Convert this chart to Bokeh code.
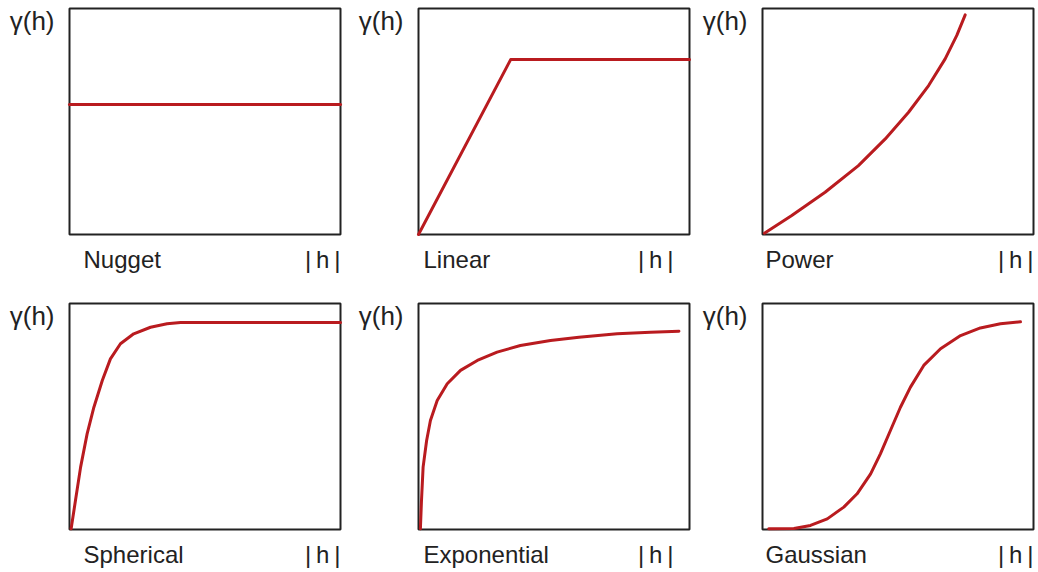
from bokeh.plotting import figure
from bokeh.models import Range1d
from bokeh.core.properties import value
from bokeh.layouts import column, row
from bokeh.embed import file_html
from bokeh.resources import INLINE

# Semivariogram model shapes: lag |h| (0..1 across the box) vs. gamma(h) (0..1 up the box)
names = ["Nugget", "Linear", "Power", "Spherical", "Exponential", "Gaussian"]

nugget_h = [0.0, 1.0]
nugget_g = [0.575, 0.575]

linear_h = [0.0, 0.34, 1.0]
linear_g = [0.0, 0.774, 0.774]

power_h = [0.007, 0.108, 0.231, 0.354, 0.453, 0.539, 0.613, 0.674, 0.717, 0.748]
power_g = [0.006, 0.084, 0.187, 0.305, 0.423, 0.541, 0.659, 0.777, 0.881, 0.972]

spherical_h = [0.006, 0.022, 0.041, 0.065, 0.090, 0.121, 0.151, 0.188, 0.237, 0.299,
               0.360, 0.410, 1.0]
spherical_g = [0.003, 0.128, 0.276, 0.423, 0.541, 0.659, 0.755, 0.822, 0.866, 0.895,
               0.910, 0.916, 0.916]

exponential_h = [0.007, 0.011, 0.017, 0.030, 0.044, 0.069, 0.106, 0.155, 0.217, 0.290,
                 0.376, 0.487, 0.592, 0.733, 0.856, 0.961]
exponential_g = [0.003, 0.128, 0.276, 0.394, 0.482, 0.571, 0.645, 0.704, 0.748, 0.785,
                 0.814, 0.836, 0.851, 0.866, 0.873, 0.877]

gaussian_h = [0.023, 0.116, 0.177, 0.239, 0.300, 0.349, 0.399, 0.435, 0.472, 0.509,
              0.546, 0.595, 0.657, 0.731, 0.804, 0.878, 0.952]
gaussian_g = [0.003, 0.004, 0.018, 0.047, 0.099, 0.158, 0.246, 0.335, 0.438, 0.541,
              0.630, 0.726, 0.800, 0.858, 0.892, 0.910, 0.919]

series = [(nugget_h, nugget_g), (linear_h, linear_g), (power_h, power_g),
          (spherical_h, spherical_g), (exponential_h, exponential_g),
          (gaussian_h, gaussian_g)]

y_label = "γ(h)"
x_label = "|\u2009h\u2009|"

RED = "#b91b1f"
INK = "#222222"
FONT = value("Liberation Sans")

# box size in pixels, and the space around each box (per column / per row)
BOX_W, BOX_H = 271, 226
col_left = [69, 68, 68]
col_right = [10, 5, 5]
name_indent = [14, 5, 3]
hlabel_shift = [0, -16, 0]
row_top = [8, 19]
row_bottom = [50, 43]


def panel(i):
    r, c = divmod(i, 3)
    w = col_left[c] + BOX_W + col_right[c]
    h = row_top[r] + BOX_H + row_bottom[r]
    p = figure(width=w, height=h, min_border=0,
               x_range=Range1d(-col_left[c] / BOX_W, (BOX_W + col_right[c]) / BOX_W),
               y_range=Range1d(-row_bottom[r] / BOX_H, (BOX_H + row_top[r]) / BOX_H),
               x_axis_location=None, y_axis_location=None,
               toolbar_location=None, output_backend="svg",
               background_fill_color="white", border_fill_color="white")
    p.grid.visible = False
    p.outline_line_color = None

    # the plot box
    p.quad(left=[0], right=[1], bottom=[0], top=[1], fill_color=None,
           line_color=INK, line_width=2)

    hx, gy = series[i]
    p.line(hx, gy, line_color=RED, line_width=3, line_join="round", line_cap="round")

    p.text(x=[0], y=[1], text=[y_label], x_offset=-15, y_offset=12,
           text_align="right", text_baseline="alphabetic",
           text_font=FONT, text_font_size=value("26px"), text_color=INK)
    p.text(x=[0], y=[0], text=[names[i]], x_offset=name_indent[c], y_offset=25,
           text_align="left", text_baseline="alphabetic",
           text_font=FONT, text_font_size=value("24px"), text_color=INK)
    p.text(x=[1], y=[0], text=[x_label], x_offset=hlabel_shift[c], y_offset=25,
           text_align="right", text_baseline="alphabetic",
           text_font=FONT, text_font_size=value("24px"), text_color=INK)
    return p


panels = [panel(i) for i in range(6)]
layout = column(row(*panels[:3]), row(*panels[3:]))

open("out.html", "w").write(file_html(layout, INLINE))
